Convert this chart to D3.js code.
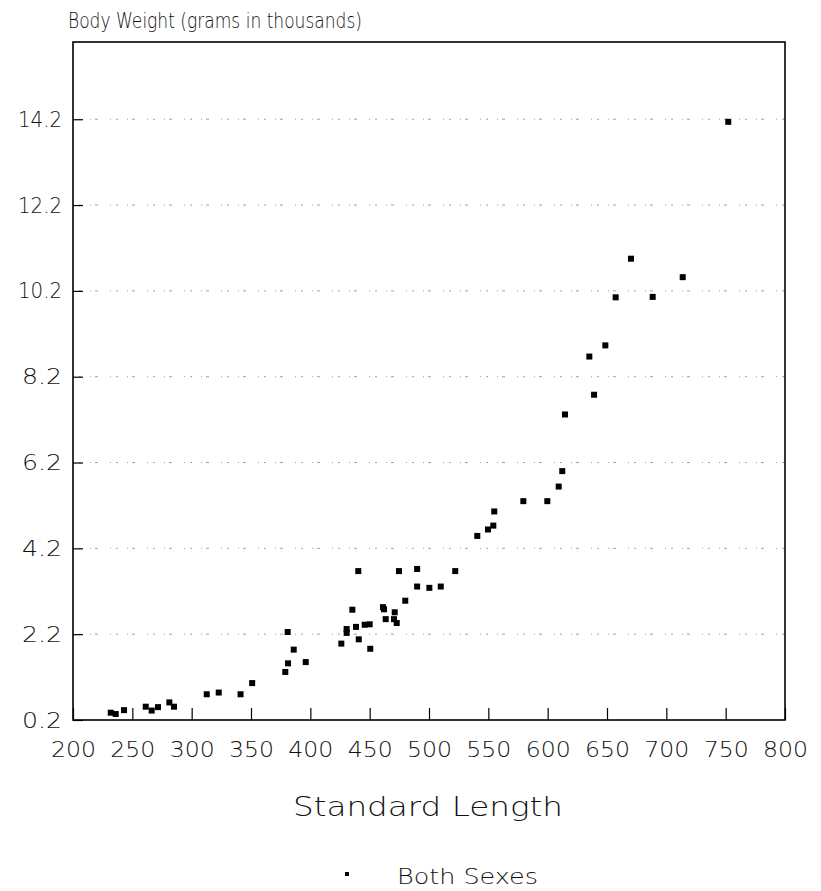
<!DOCTYPE html>
<html>
<head>
<meta charset="utf-8">
<script src="https://cdn.jsdelivr.net/npm/d3@7"></script>
<style>
  html, body { margin: 0; padding: 0; background: #fff; }
  svg text { font-family: "DejaVu Sans", "Liberation Sans", sans-serif; font-weight: 200; fill: #111; }
</style>
</head>
<body>
<svg id="chart" width="821" height="891"></svg>
<script>
// Standard length (mm) for each fish
const standardLength = [
  231.8, 236.0, 243.0, 261.3, 266.3, 271.6, 281.2, 285.1, 312.7, 322.8,
  341.2, 351.0, 378.9, 381.2, 380.9, 386.0, 396.1, 426.1, 430.6, 430.6,
  435.4, 438.5, 440.8, 440.4, 445.8, 450.0, 450.5, 461.2, 462.1, 463.5,
  471.1, 470.5, 472.8, 474.7, 480.0, 490.0, 490.0, 500.3, 509.9, 522.1,
  540.7, 549.7, 554.2, 555.0, 579.5, 599.7, 609.3, 612.3, 614.6, 639.1,
  635.1, 648.6, 657.3, 688.5, 670.2, 713.8, 752.2
];
// Body weight (grams in thousands)
const bodyWeight = [
  0.37, 0.34, 0.43, 0.51, 0.42, 0.50, 0.61, 0.51, 0.80, 0.84,
  0.80, 1.06, 1.32, 1.52, 2.25, 1.84, 1.55, 1.98, 2.32, 2.23,
  2.77, 2.37, 2.08, 3.67, 2.42, 2.43, 1.86, 2.83, 2.78, 2.55,
  2.71, 2.55, 2.46, 3.67, 2.98, 3.72, 3.31, 3.28, 3.31, 3.67,
  4.49, 4.64, 4.73, 5.06, 5.30, 5.30, 5.64, 6.00, 7.32, 7.78,
  8.67, 8.93, 10.05, 10.06, 10.95, 10.52, 14.14
];
const xTicks = [200, 250, 300, 350, 400, 450, 500, 550, 600, 650, 700, 750, 800];
const yTicks = [0.2, 2.2, 4.2, 6.2, 8.2, 10.2, 12.2, 14.2];
const seriesName = "Both Sexes";
const xTitle = "Standard Length";
const yTitle = "Body Weight (grams in thousands)";

const svg = d3.select("#chart");
const L = 73, R = 785, T = 42, B = 720;

const x = d3.scaleLinear().domain([200, 800]).range([L, R]);
const y = d3.scaleLinear().domain([0.2, 16.0]).range([B, T]);

// dotted horizontal grid lines
svg.append("g")
  .selectAll("line")
  .data(yTicks.slice(1))
  .join("line")
  .attr("x1", L).attr("x2", R)
  .attr("y1", d => y(d)).attr("y2", d => y(d))
  .attr("stroke", "#999")
  .attr("stroke-width", 0.9)
  .attr("stroke-dasharray", "1,5,2,9,1,4,3,12");

// x axis (ticks pointing up into the plot)
const xAxis = svg.append("g")
  .attr("transform", `translate(0,${B})`)
  .call(d3.axisBottom(x).tickValues(xTicks).tickSize(-12).tickPadding(21).tickFormat(d3.format("d")));
xAxis.select(".domain").remove();
xAxis.selectAll("line").attr("stroke", "#000").attr("stroke-width", 1.2);
xAxis.selectAll("text")
  .attr("font-size", 22)
  .attr("textLength", 45).attr("lengthAdjust", "spacingAndGlyphs")
  .style("font-family", null);

// y axis (ticks pointing right into the plot)
const yAxis = svg.append("g")
  .attr("transform", `translate(${L},0)`)
  .call(d3.axisLeft(y).tickValues(yTicks).tickSize(-10).tickPadding(11).tickFormat(d3.format(".1f")));
yAxis.select(".domain").remove();
yAxis.selectAll("line").attr("stroke", "#000").attr("stroke-width", 1.2);
yAxis.selectAll("text")
  .attr("font-size", 22)
  .attr("textLength", d => d >= 10 ? 44 : 40).attr("lengthAdjust", "spacingAndGlyphs")
  .style("font-family", null);

// frame
svg.append("rect")
  .attr("x", L).attr("y", T)
  .attr("width", R - L).attr("height", B - T)
  .attr("fill", "none").attr("stroke", "#000").attr("stroke-width", 1.6);

// data points
const pts = standardLength.map((v, i) => ({ sl: v, bw: bodyWeight[i] }));
const s = 6;
svg.append("g")
  .selectAll("rect")
  .data(pts)
  .join("rect")
  .attr("x", d => x(d.sl) - s / 2)
  .attr("y", d => y(d.bw) - s / 2)
  .attr("width", s).attr("height", s)
  .attr("fill", "#000");

// titles
svg.append("text")
  .attr("x", 68).attr("y", 28)
  .attr("font-size", 21)
  .attr("textLength", 294).attr("lengthAdjust", "spacingAndGlyphs")
  .text(yTitle);

svg.append("text")
  .attr("x", 293).attr("y", 816)
  .attr("font-size", 26)
  .attr("textLength", 270).attr("lengthAdjust", "spacingAndGlyphs")
  .text(xTitle);

// legend
svg.append("rect")
  .attr("x", 345).attr("y", 872)
  .attr("width", 4).attr("height", 4)
  .attr("fill", "#000");
svg.append("text")
  .attr("x", 397).attr("y", 884)
  .attr("font-size", 21)
  .attr("textLength", 141).attr("lengthAdjust", "spacingAndGlyphs")
  .text(seriesName);
</script>
</body>
</html>
